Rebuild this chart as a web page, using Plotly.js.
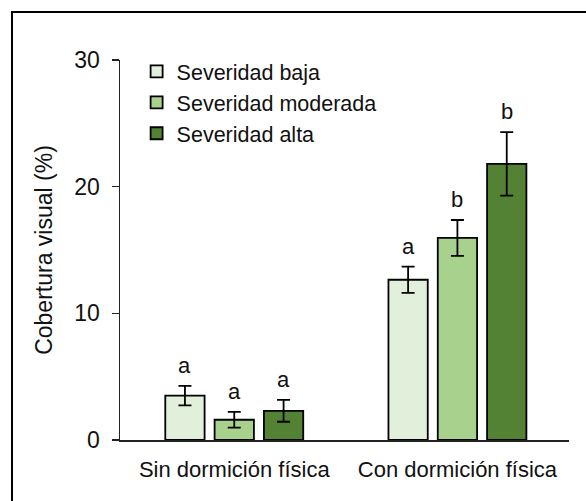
<!DOCTYPE html>
<html>
<head>
<meta charset="utf-8">
<script src="https://cdn.plot.ly/plotly-3.0.1.min.js"></script>
<style>html,body{margin:0;padding:0;background:#fff;}</style>
</head>
<body>
<div id="chart" style="width:586px;height:501px;"></div>
<script>
const categories = ["Sin dormición física", "Con dormición física"];
const seriesNames = ["Severidad baja", "Severidad moderada", "Severidad alta"];
const baja = [3.5, 12.65];
const moderada = [1.6, 15.95];
const alta = [2.3, 21.8];
const bajaErr = [0.77, 1.03];
const moderadaErr = [0.62, 1.42];
const altaErr = [0.86, 2.5];
const bajaLetters = ["a", "a"];
const moderadaLetters = ["a", "b"];
const altaLetters = ["a", "b"];
const yTicks = [0, 10, 20, 30];

const colors = ["#E2EFDA", "#A9D18E", "#548235"];
const values = [baja, moderada, alta];
const errs = [bajaErr, moderadaErr, altaErr];
const letters = [bajaLetters, moderadaLetters, altaLetters];
const FONT = "Liberation Sans, Arial, sans-serif";

const bargap = 0.337;
const slot = (1 - bargap) / 3;

const traces = values.map((v, i) => ({
  type: "bar",
  name: seriesNames[i],
  x: categories,
  y: v,
  marker: {color: colors[i], line: {color: "#000", width: 1.8}},
  error_y: {type: "data", array: errs[i], visible: true, color: "#000", thickness: 1.8, width: 6.5},
  hoverinfo: "skip"
}));

const annotations = [];
values.forEach((v, i) => {
  v.forEach((val, j) => {
    annotations.push({
      x: j + (i - 1) * slot, xref: "x",
      y: val + errs[i][j], yref: "y",
      text: letters[i][j], showarrow: false,
      yanchor: "bottom", yshift: 6,
      font: {family: FONT, size: 22, color: "#111"}
    });
  });
});

const layout = {
  width: 586, height: 501,
  margin: {l: 120, r: 17, t: 60, b: 61},
  paper_bgcolor: "#fff", plot_bgcolor: "#fff",
  barmode: "group",
  bargap: bargap,
  bargroupgap: 0.203,
  showlegend: true,
  legend: {
    x: 0.037, y: 1.024, xanchor: "left", yanchor: "top",
    font: {family: FONT, size: 21.5, color: "#111"},
    bgcolor: "rgba(0,0,0,0)",
    traceorder: "normal",
    itemclick: false
  },
  xaxis: {
    type: "category",
    range: [-0.512, 1.5],
    showline: true, linecolor: "#222", linewidth: 1.8,
    ticks: "", showgrid: false, zeroline: false,
    tickfont: {family: FONT, size: 22, color: "#111"},
    ticklabelstandoff: 9,
    fixedrange: true
  },
  yaxis: {
    range: [0, 30],
    tickvals: yTicks,
    ticktext: yTicks.map(String),
    showline: true, linecolor: "#222", linewidth: 1.5,
    ticks: "outside", ticklen: 7, tickwidth: 1.5, tickcolor: "#222",
    showgrid: false, zeroline: false,
    tickfont: {family: FONT, size: 23, color: "#111"},
    ticklabelstandoff: 7,
    title: {text: "Cobertura visual (%)", font: {family: FONT, size: 23, color: "#111"}, standoff: 15},
    fixedrange: true
  },
  annotations: annotations,
  shapes: [{
    type: "rect", xref: "paper", yref: "paper",
    x0: (12 - 120) / 449, x1: (600 - 120) / 449,
    y0: (440 - 520) / 380, y1: (440 - 12) / 380,
    line: {color: "#000", width: 2}, fillcolor: "rgba(0,0,0,0)", layer: "below"
  }]
};

Plotly.newPlot("chart", traces, layout, {staticPlot: true, displayModeBar: false});
</script>
</body>
</html>
